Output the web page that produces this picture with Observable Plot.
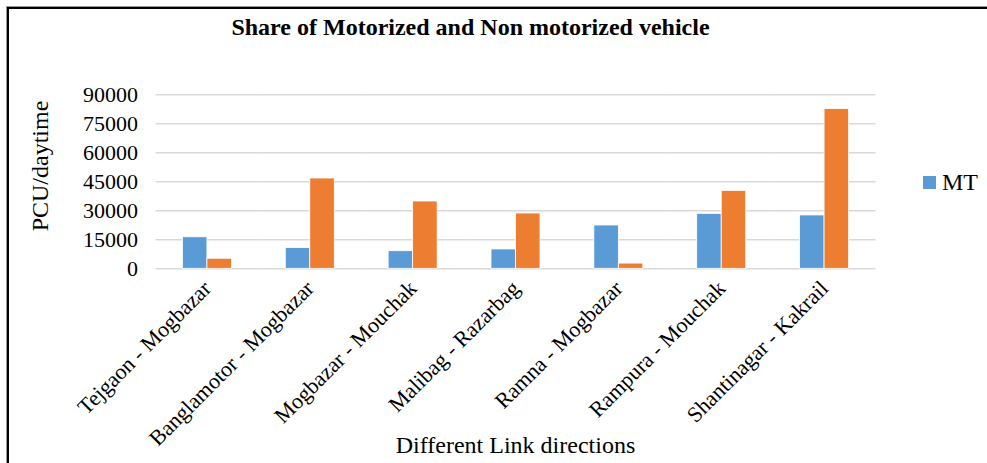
<!DOCTYPE html>
<html><head><meta charset="utf-8">
<script src="https://cdn.jsdelivr.net/npm/d3@7"></script>
<script src="https://cdn.jsdelivr.net/npm/@observablehq/plot@0.6"></script>
<style>
body{margin:0;background:#fff;width:987px;height:463px;overflow:hidden;position:relative;font-family:"Liberation Serif","Times New Roman",serif;color:#000;}
#frame{position:absolute;left:7px;top:7px;width:1100px;height:600px;border-top:2px solid #000;border-left:2px solid #000;box-shadow:-1px -1px 0 #999;}
#chart{position:absolute;left:0;top:0;}
.t{position:absolute;white-space:nowrap;line-height:24px;font-size:24px;}
#title{left:0;width:941px;top:15px;text-align:center;font-weight:bold;}
#ylab{left:40px;top:166px;transform:translate(-50%,-50%) rotate(-90deg);}
#xlab{left:515.5px;top:433px;transform:translateX(-50%);}
#legsw{position:absolute;left:923px;top:176px;width:13px;height:13px;background:#5B9BD5;}
#legtx{left:942px;top:170px;}
</style></head>
<body>
<div id="frame"></div>
<div id="chart"></div>
<div class="t" id="title">Share of Motorized and Non motorized vehicle</div>
<div class="t" id="ylab">PCU/daytime</div>
<div class="t" id="xlab">Different Link directions</div>
<div id="legsw"></div><div class="t" id="legtx">MT</div>
<script>
const links = ["Tejgaon - Mogbazar","Banglamotor - Mogbazar","Mogbazar - Mouchak","Malibag - Razarbag","Ramna - Mogbazar","Rampura - Mouchak","Shantinagar - Kakrail"];
const seriesNames = ["MT","NMT"];
const MT  = [16300, 10700, 9100, 10000, 22400, 28400, 27600];
const NMT = [5200, 46700, 34800, 28600, 2700, 40300, 82600];
const yTicks = [0, 15000, 30000, 45000, 60000, 75000, 90000];

const data = links.flatMap((l, i) => [
  {link: l, series: "MT", value: MT[i]},
  {link: l, series: "NMT", value: NMT[i]}
]);

const chart = Plot.plot({
  width: 987, height: 463,
  marginLeft: 155.5, marginRight: 111.5, marginTop: 94.3, marginBottom: 194.7,
  style: {fontFamily: "'Liberation Serif', 'Times New Roman', serif", fontSize: "22px", color: "#000", background: "transparent", overflow: "visible"},
  fx: {domain: links, padding: 0, round: false, label: null, tickRotate: -45, tickSize: 0, tickPadding: 16, axis: "bottom"},
  x: {domain: seriesNames, paddingInner: 0, paddingOuter: 1.099, round: false, axis: null},
  y: {domain: [0, 90000], ticks: yTicks, tickFormat: d => String(d), tickSize: 0, tickPadding: 18, label: null},
  color: {domain: seriesNames, range: ["#5B9BD5", "#ED7D31"]},
  marks: [
    Plot.ruleY(yTicks, {stroke: "#d9d9d9", strokeWidth: 1.5}),
    Plot.barY(data, {fx: "link", x: "series", y: "value", fill: "series", stroke: "white", strokeWidth: 0.8})
  ]
});
document.getElementById("chart").appendChild(chart);
</script>
</body></html>
